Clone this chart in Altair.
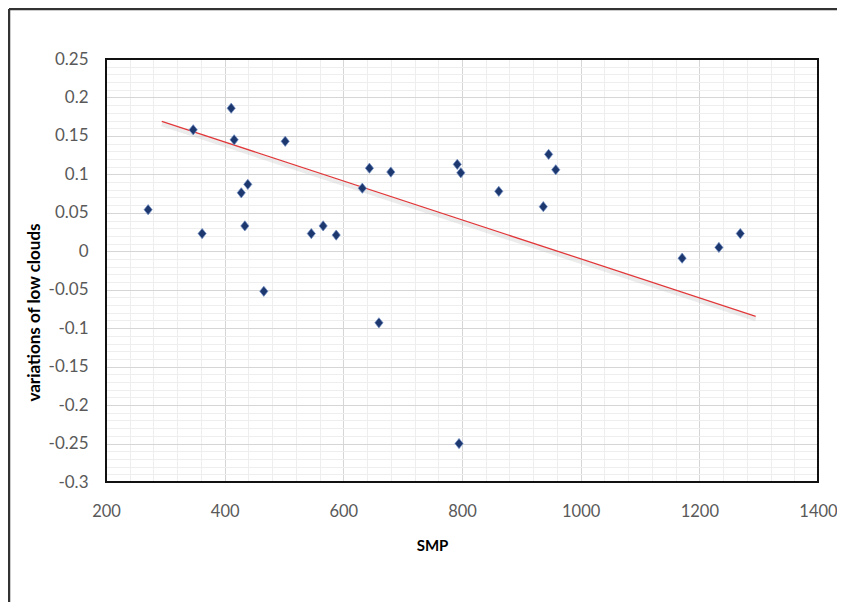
import altair as alt
import pandas as pd

# Data
smp = [271, 347, 362, 411, 416, 428, 439, 434, 466, 502, 546, 566, 588, 632,
       644, 680, 660, 792, 798, 795, 862, 937, 946, 958, 1171, 1233, 1269]
low_clouds = [0.054, 0.158, 0.023, 0.186, 0.145, 0.076, 0.087, 0.033, -0.052,
              0.143, 0.023, 0.033, 0.021, 0.082, 0.108, 0.103, -0.093, 0.113,
              0.102, -0.250, 0.078, 0.058, 0.126, 0.106, -0.009, 0.005, 0.023]

trend_x = [294, 1295]
trend_y = [0.169, -0.0845]

x_major = [200, 400, 600, 800, 1000, 1200, 1400]
y_major = [-0.3, -0.25, -0.2, -0.15, -0.1, -0.05, 0, 0.05, 0.1, 0.15, 0.2, 0.25]
x_minor = [v for v in range(200, 1401, 40) if v % 200 != 0]
y_minor = [round(i * 0.01, 2) for i in range(-30, 26) if i % 5 != 0]

df = pd.DataFrame({"smp": smp, "v": low_clouds})
tdf = pd.DataFrame({"smp": trend_x, "v": trend_y})

xscale = alt.Scale(domain=[200, 1400], nice=False, zero=False)
yscale = alt.Scale(domain=[-0.3, 0.25], nice=False, zero=False)

FONT = "Lato"
LABEL_COLOR = "#595959"

minor = alt.Chart(df).mark_point(opacity=0).encode(
    x=alt.X("smp:Q", scale=xscale,
            axis=alt.Axis(orient="top", values=x_minor, labels=False, ticks=False, domain=False,
                          title=None, grid=True, gridColor="#eeeeee", gridWidth=1)),
    y=alt.Y("v:Q", scale=yscale,
            axis=alt.Axis(orient="right", values=y_minor, labels=False, ticks=False, domain=False,
                          title=None, grid=True, gridColor="#eeeeee", gridWidth=1)),
)

diamond = "M0,-1L0.8,0L0,1L-0.8,0Z"

points = alt.Chart(df).mark_point(
    shape=diamond, filled=True, size=105, color="#1c386f",
    stroke="#6d8cc4", strokeWidth=1, strokeOpacity=0.7, opacity=1,
).encode(
    x=alt.X("smp:Q", scale=xscale,
            axis=alt.Axis(orient="bottom", values=x_major, grid=True, gridColor="#d6d6d6",
                          gridWidth=1, ticks=False, domain=False, labelFont=FONT,
                          labelFontSize=16.5, labelColor=LABEL_COLOR, labelPadding=21,
                          labelFlush=False, labelExpr="'' + datum.value",
                          title="SMP", titleFont=FONT, titleFontSize=15,
                          titleFontWeight="bold", titleColor="#000000",
                          titleX=326, titleY=63, titleBaseline="middle",
                          titleAnchor="start", titleAlign="center")),
    y=alt.Y("v:Q", scale=yscale,
            axis=alt.Axis(orient="left", values=y_major, grid=True, gridColor="#d6d6d6",
                          gridWidth=1, ticks=False, domain=False, labelFont=FONT,
                          labelFontSize=17, labelColor=LABEL_COLOR, labelPadding=18,
                          labelFlush=False, labelExpr="'' + datum.value",
                          title="variations of low clouds", titleFont=FONT,
                          titleFontSize=17, titleFontWeight="bold", titleColor="#000000",
                          titleX=-72, titleY=253, titleAngle=-90,
                          titleBaseline="middle", titleAlign="center", titleAnchor="start")),
)

shadow = alt.Chart(tdf).mark_line(color="#c8c8c8", strokeWidth=4, opacity=0.35, yOffset=3).encode(
    x=alt.X("smp:Q", scale=xscale, axis=None),
    y=alt.Y("v:Q", scale=yscale, axis=None),
)

trend = alt.Chart(tdf).mark_line(color="#e0393b", strokeWidth=1.3).encode(
    x=alt.X("smp:Q", scale=xscale, axis=None),
    y=alt.Y("v:Q", scale=yscale, axis=None),
)

one = pd.DataFrame({"a": [0]})
border = alt.Chart(one).mark_rect(fill=None, stroke="#111111", strokeWidth=2).encode(
    x=alt.value(0), x2=alt.value(712), y=alt.value(0), y2=alt.value(423)
)
frame_left = alt.Chart(one).mark_rule(color="#333333", strokeWidth=2.5).encode(
    x=alt.value(-97), y=alt.value(-50), y2=alt.value(560)
)
frame_top = alt.Chart(one).mark_rule(color="#333333", strokeWidth=2.5).encode(
    x=alt.value(-97), x2=alt.value(745), y=alt.value(-50)
)

chart = alt.layer(minor, shadow, trend, points, border, frame_left, frame_top).resolve_axis(
    x="independent", y="independent"
).properties(
    width=712, height=423,
    autosize=alt.AutoSizeParams(type="none"),
    padding={"left": 98, "top": 51, "right": 19, "bottom": 120},
).configure_view(
    stroke=None
).configure(background="white")

chart.save("out.html", embed_options={"renderer": "svg", "actions": False})
